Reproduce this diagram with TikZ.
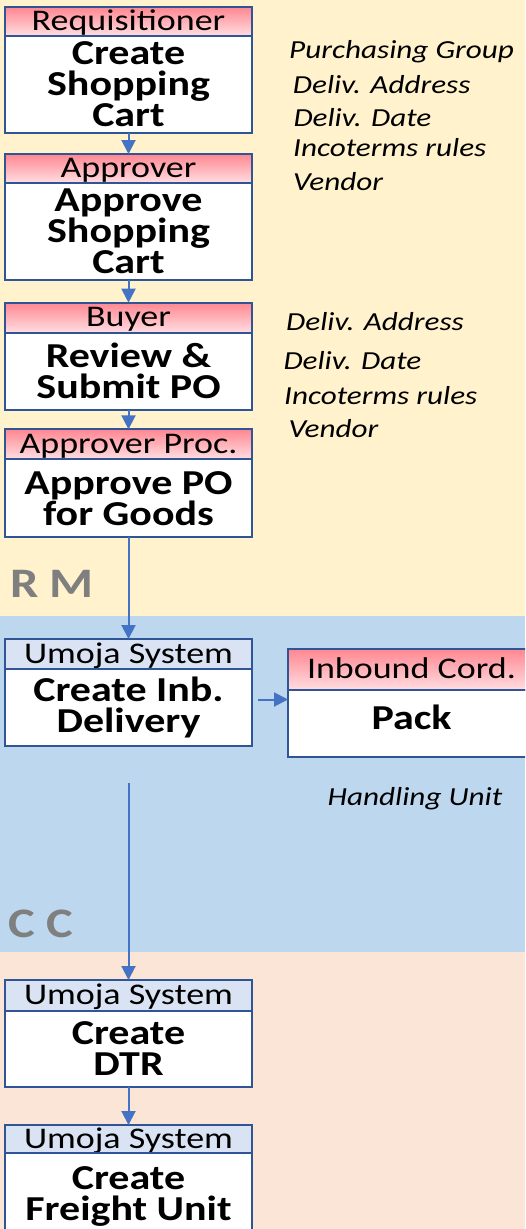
\documentclass[tikz,border=0pt]{standalone}
\usepackage{fontspec}
\setmainfont{Carlito}[FakeStretch=1.2]
\usetikzlibrary{arrows.meta}
\usetikzlibrary{positioning}
\definecolor{laneRM}{RGB}{255,242,204}
\definecolor{laneIC}{RGB}{189,215,238}
\definecolor{laneCC}{RGB}{251,229,214}
\definecolor{boxline}{RGB}{47,85,151}
\definecolor{flowline}{RGB}{68,114,196}
\definecolor{umoja}{RGB}{218,227,243}
\definecolor{roletop}{RGB}{255,135,145}
\definecolor{rolebot}{RGB}{255,222,226}
\definecolor{lanetext}{RGB}{127,127,127}
\newcommand\tasklines{\fontsize{35}{31}\selectfont\bfseries\lineskiplimit=-20pt\relax}
\tikzset{
  head/.style={draw=boxline, line width=2.3pt, outer sep=0pt, inner sep=0pt,
    minimum width=247pt, text height=23pt, text depth=5pt,
    font=\fontsize{30}{32}\selectfont},
  role/.style={head, top color=roletop, bottom color=rolebot},
  sysrole/.style={head, fill=umoja},
  task/.style={draw=boxline, line width=2.3pt, outer sep=0pt, inner sep=0pt,
    minimum width=247pt, fill=white, align=center, font=\tasklines},
  flow/.style={draw=flowline, line width=2pt,
    -{Triangle[width=14pt,length=14pt]}},
  field/.style={anchor=base west, inner sep=0pt,
    font=\fontsize{26}{28}\selectfont\itshape},
  lane/.style={anchor=base west, inner sep=0pt, text=lanetext,
    font=\fontsize{42}{44}\selectfont\bfseries}
}

\begin{document}
\begin{tikzpicture}[x=1pt,y=-1pt]
\useasboundingbox (0,0) rectangle (525,1229);
\clip (0,0) rectangle (525,1229);

% swim lanes
\fill[laneRM] (0,0) rectangle (525,616);
\fill[laneIC] (0,616) rectangle (525,952);
\fill[laneCC] (0,952) rectangle (525,1229);
\node[lane] (rm) at (10,597) {R M};
\node[lane] (cc) at (8,937) {C C};

% steps
\node[role, minimum height=29pt] (h1) at (128.5,21.5) {Requisitioner};
\node[task, minimum height=97pt, below=0pt of h1] (b1) {Create\\Shopping\\Cart};
\node[role, minimum height=29pt] (h2) at (128.5,168.5) {Approver};
\node[task, minimum height=97pt, below=0pt of h2] (b2) {Approve\\Shopping\\Cart};
\node[role, minimum height=30pt] (h3) at (128.5,317.7) {Buyer};
\node[task, minimum height=77pt, below=0pt of h3] (b3) {Review \&\\Submit PO};
\node[role, minimum height=30pt] (h4) at (128.5,444.3) {Approver Proc.};
\node[task, minimum height=78pt, below=0pt of h4] (b4) {Approve PO\\for Goods};
\node[sysrole, minimum height=30pt] (h5) at (128.5,654) {Umoja System};
\node[task, minimum height=77pt, below=0pt of h5] (b5) {Create Inb.\\Delivery};
\node[role, minimum height=41pt] (hp) at (411.5,669.5) {Inbound Cord.};
\node[task, minimum height=67pt, text depth=12pt, below=0pt of hp] (bp) {Pack};
\node[sysrole, minimum height=31pt] (h6) at (128.5,995.5) {Umoja System};
\node[task, minimum height=76pt, below=0pt of h6] (b6) {Create\\DTR};
\node[sysrole, minimum height=28pt] (h7) at (128.5,1139) {Umoja System};
\node[task, minimum height=87pt, below=0pt of h7] (b7) {Create\\Freight Unit};

% flow
\draw[flow] (b1) -- (h2);
\draw[flow] (b2) -- (h3);
\draw[flow] (b3) -- (h4);
\draw[flow] (b4) -- (h5);
\draw[flow] ([xshift=6pt,yshift=8pt]b5.east) -- ([yshift=8pt]b5.east -| bp.west);
\draw[flow] ([yshift=-37pt]b5.south) -- (h6);
\draw[flow] (b6) -- (h7);

% data fields
\node[field] (grp1) at (289,58.3) {Purchasing Group};
\node[field] (adr1) at (292.7,93.3) {Deliv. Address};
\node[field] (dat1) at (293.3,126.7) {Deliv. Date};
\node[field] (inc1) at (293,156.7) {Incoterms rules};
\node[field] (ven1) at (293,190.7) {Vendor};
\node[field] (adr2) at (286,330) {Deliv. Address};
\node[field] (dat2) at (283.3,369.3) {Deliv. Date};
\node[field] (inc2) at (284,404) {Incoterms rules};
\node[field] (ven2) at (288.3,437.3) {Vendor};
\node[field, anchor=base] (hu) at (415,805) {Handling Unit};
\end{tikzpicture}
\end{document}
